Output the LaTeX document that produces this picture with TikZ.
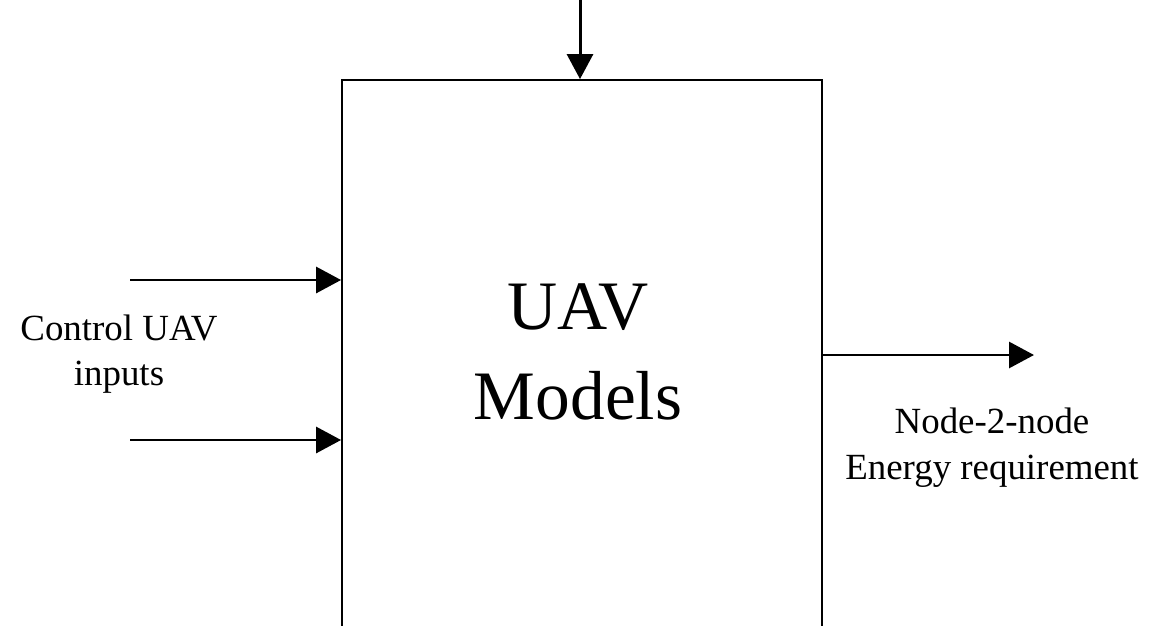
\documentclass[tikz,border=0pt]{standalone}
\usepackage{fontspec}
\setmainfont{Liberation Serif}
\usepackage{tikz}
\usetikzlibrary{arrows.meta, positioning}

\begin{document}
\begin{tikzpicture}[x=0.02cm, y=-0.02cm,
    block/.style={draw, line width=1.1pt, minimum width=9.6cm, minimum height=11.2cm, inner sep=0pt},
    arr/.style={line width=1.7pt, -{Triangle[length=0.5cm, width=0.52cm]}},
    side/.style={align=center, inner sep=0pt, font=\fontsize{21}{26}\selectfont},
    title/.style={align=center, inner sep=0pt, font=\fontsize{39.5}{51}\selectfont}]
  \useasboundingbox (0,0) rectangle (1152,625);
  \clip (0,0) rectangle (1152,625);
  % the model block, cut off at the bottom
  \node[block] (uav) at (582,360) {};
  \node[title] (name) at (578,352) {UAV\\Models};
  % free ends of the signals
  \coordinate (top) at (580,0);
  \coordinate (inA) at (130,280);
  \coordinate (inB) at (130,440);
  \coordinate (out) at (1034,355);
  \draw[arr] (top) -- (top |- uav.north);
  \draw[arr] (inA) -- (inA -| uav.west);
  \draw[arr] (inB) -- (inB -| uav.west);
  \draw[arr] (out -| uav.east) -- (out);
  % labels
  \node[side] (ctrl) at (119,354) {Control UAV\\inputs};
  \node[side] (energy) at (992,448) {Node-2-node\\Energy requirement};
\end{tikzpicture}
\end{document}
